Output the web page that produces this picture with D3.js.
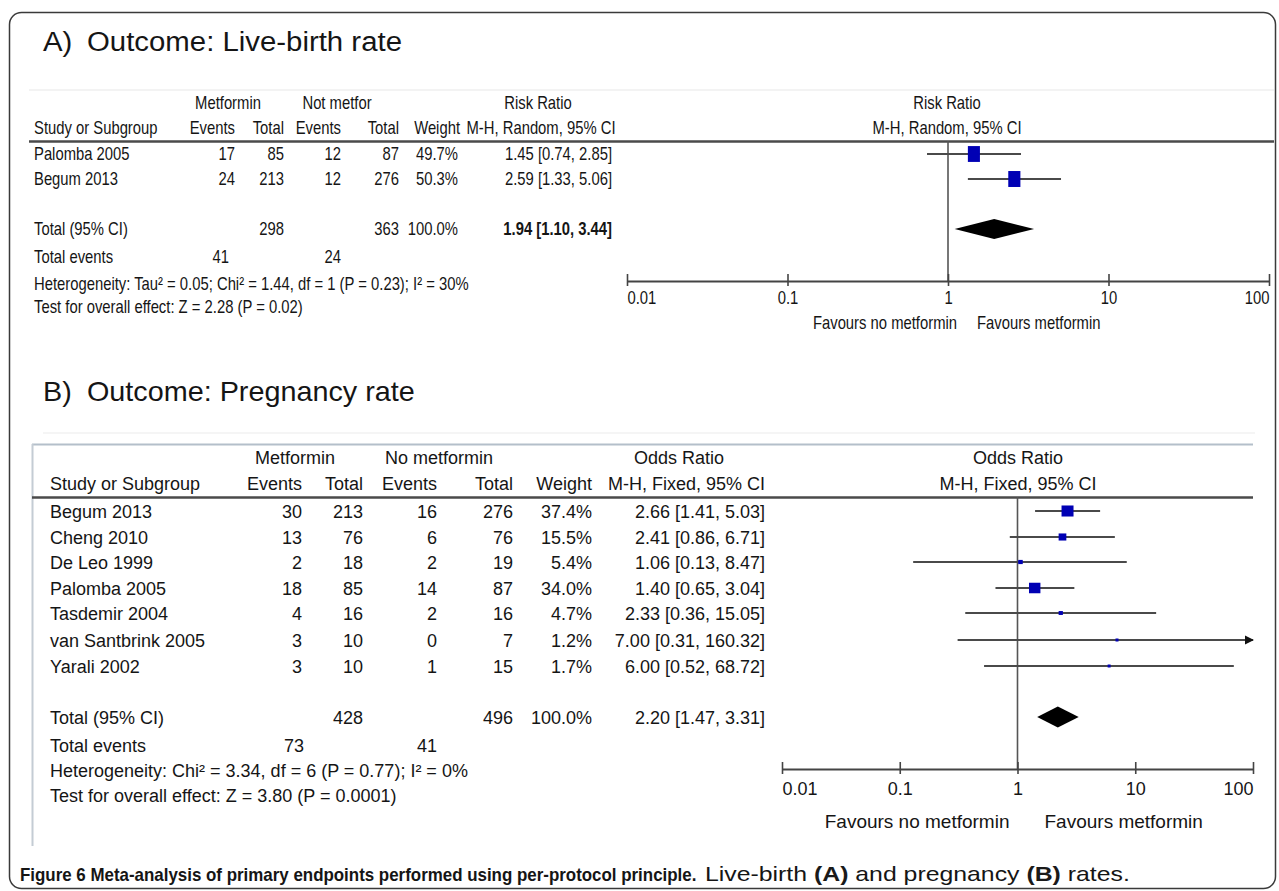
<!DOCTYPE html>
<html><head><meta charset="utf-8">
<script src="https://cdn.jsdelivr.net/npm/d3@7"></script>
<style>
html,body{margin:0;padding:0;background:#fff;}
svg{display:block;}
text{font-family:"Liberation Sans", Arial, sans-serif; fill:#151515;}
</style></head><body>
<svg id="chart" width="1279" height="891"></svg>
<script>
// ---------- Panel A data (Live-birth rate, Risk Ratio) ----------
const studiesA = ["Palomba 2005", "Begum 2013"];
const expEventsA = [17, 24];
const expTotalA = [85, 213];
const ctrlEventsA = [12, 12];
const ctrlTotalA = [87, 276];
const weightA = [49.7, 50.3];
const estA = [1.45, 2.59];
const lowA = [0.74, 1.33];
const highA = [2.85, 5.06];
const totalsA = [298, 363, 100.0];          // exp total, ctrl total, weight
const pooledA = [1.94, 1.10, 3.44];         // estimate, low, high
const totalEventsA = [41, 24];
const hetA = "Heterogeneity: Tau² = 0.05; Chi² = 1.44, df = 1 (P = 0.23); I² = 30%";
const testA = "Test for overall effect: Z = 2.28 (P = 0.02)";

// ---------- Panel B data (Pregnancy rate, Odds Ratio) ----------
const studiesB = ["Begum 2013", "Cheng 2010", "De Leo 1999", "Palomba 2005", "Tasdemir 2004", "van Santbrink 2005", "Yarali 2002"];
const expEventsB = [30, 13, 2, 18, 4, 3, 3];
const expTotalB = [213, 76, 18, 85, 16, 10, 10];
const ctrlEventsB = [16, 6, 2, 14, 2, 0, 1];
const ctrlTotalB = [276, 76, 19, 87, 16, 7, 15];
const weightB = [37.4, 15.5, 5.4, 34.0, 4.7, 1.2, 1.7];
const estB = [2.66, 2.41, 1.06, 1.40, 2.33, 7.00, 6.00];
const lowB = [1.41, 0.86, 0.13, 0.65, 0.36, 0.31, 0.52];
const highB = [5.03, 6.71, 8.47, 3.04, 15.05, 160.32, 68.72];
const totalsB = [428, 496, 100.0];
const pooledB = [2.20, 1.47, 3.31];
const totalEventsB = [73, 41];
const hetB = "Heterogeneity: Chi² = 3.34, df = 6 (P = 0.77); I² = 0%";
const testB = "Test for overall effect: Z = 3.80 (P = 0.0001)";

// ---------- axis ----------
const tickValues = [0.01, 0.1, 1, 10, 100];
const tickLabels = ["0.01", "0.1", "1", "10", "100"];
const favourLabels = ["Favours no metformin", "Favours metformin"];

const svg = d3.select("#chart");
svg.append("rect").attr("width", 1279).attr("height", 891).attr("fill", "#fff");
svg.append("rect").attr("x", 9.5).attr("y", 12.5).attr("width", 1266).attr("height", 876)
  .attr("rx", 12).attr("fill", "none").attr("stroke", "#3a3a3a").attr("stroke-width", 1.5);

function measure(str, size, weight, family) {
  const t = svg.append("text").attr("font-size", size).attr("font-weight", weight || "normal").text(str);
  if (family) t.attr("font-family", family);
  const w = t.node().getComputedTextLength();
  t.remove();
  return w;
}
function label(g, str, x, y, o) {
  o = o || {};
  const t = g.append("text").text(str)
    .attr("font-size", o.size || 17)
    .attr("text-anchor", o.anchor || "start")
    .attr("transform", `translate(${x},${y}) scale(${o.sx || 1},1)`);
  if (o.weight) t.attr("font-weight", o.weight);
  if (o.fill) t.attr("fill", o.fill);
  return t;
}
function hline(g, x1, x2, y, color, w) {
  g.append("line").attr("x1", x1).attr("x2", x2).attr("y1", y).attr("y2", y)
    .attr("stroke", color).attr("stroke-width", w);
}
const f2 = d3.format(".2f"), f1 = d3.format(".1f");
const ciText = (e, l, h) => `${f2(e)} [${f2(l)}, ${f2(h)}]`;

function title(g, tag, str, y, x2) {
  const fs = 28;
  const s = (x2 - 87) / measure(str, fs);
  label(g, tag, 43, y, { size: fs, sx: s, fill: "#111" });
  label(g, str, 87, y, { size: fs, sx: s, fill: "#111" });
}

function forest(g, cfg) {
  const x = d3.scaleLog().domain([0.01, 100]).range(cfg.range);
  const sx = cfg.sx;
  g.append("line").attr("x1", x(1)).attr("x2", x(1)).attr("y1", cfg.top).attr("y2", cfg.axisY)
    .attr("stroke", "#555").attr("stroke-width", 1.6);
  const axis = d3.axisBottom(x).tickValues(tickValues).tickFormat((d, i) => tickLabels[i])
    .tickSizeInner(5).tickSizeOuter(0).tickPadding(cfg.tickPad);
  const ag = g.append("g").attr("transform", `translate(0,${cfg.axisY})`).call(axis);
  ag.select(".domain").attr("stroke", "#444").attr("stroke-width", 2);
  ag.selectAll(".tick line").attr("y1", -7).attr("stroke", "#444").attr("stroke-width", 1.6);
  ag.selectAll(".tick text").attr("font-size", cfg.fs).attr("fill", "#222")
    .attr("font-family", '"Liberation Sans", Arial, sans-serif')
    .attr("text-anchor", (d, i) => i === 0 ? "start" : (i === tickValues.length - 1 ? "end" : "middle"))
    .attr("transform", `scale(${sx},1)`)
    .attr("x", 0);
  const size = d3.scaleSqrt().domain([0, 100]).range([0, cfg.sqMax]);
  cfg.est.forEach((e, i) => {
    const y = cfg.rowY[i];
    const hiClamped = Math.min(cfg.high[i], 100);
    g.append("line").attr("x1", x(cfg.low[i])).attr("x2", x(hiClamped)).attr("y1", y).attr("y2", y)
      .attr("stroke", "#4a4a4a").attr("stroke-width", 1.8);
    if (cfg.high[i] > 100) {
      const xe = x(100);
      g.append("path").attr("d", `M${xe - 8},${y - 4.5}L${xe + 1},${y}L${xe - 8},${y + 4.5}Z`).attr("fill", "#111");
    }
    const s = Math.max(size(cfg.weight[i]), 3);
    const w = s * cfg.sqAspect, h = Math.max(s * cfg.sqHScale, 3);
    g.append("rect").attr("x", x(e) - w / 2).attr("y", y - h / 2).attr("width", w).attr("height", h)
      .attr("fill", "#0000b4");
  });
  const [pe, pl, ph] = cfg.pooled;
  const dy = cfg.totalY, dh = cfg.diamondH / 2;
  g.append("path").attr("d", `M${x(pl)},${dy}L${x(pe)},${dy - dh}L${x(ph)},${dy}L${x(pe)},${dy + dh}Z`).attr("fill", "#000");
  label(g, favourLabels[0], x(1) + cfg.favL, cfg.favY, { anchor: "end", size: cfg.favFs, sx: sx, fill: "#222" });
  label(g, favourLabels[1], x(1) + cfg.favR, cfg.favY, { anchor: "start", size: cfg.favFs, sx: sx, fill: "#222" });
  return x;
}

// ================= Panel A =================
const gA = svg.append("g");
title(gA, "A)", "Outcome: Live-birth rate", 51, 402);
hline(gA, 29, 1274, 90, "#efefef", 1.5);
const fsA = 17.5;
const sxA = 435 / measure(hetA, fsA);
const oA = { size: fsA, sx: sxA };
const colA = { study: 34, e1: 235, t1: 284, e2: 341, t2: 399, w: 458, ci: 612 };
label(gA, "Metformin", 228, 109, { ...oA, anchor: "middle" });
label(gA, "Not metfor", 337, 109, { ...oA, anchor: "middle" });
label(gA, "Risk Ratio", 538, 109, { ...oA, anchor: "middle" });
label(gA, "Risk Ratio", 947, 109, { ...oA, anchor: "middle" });
label(gA, "Study or Subgroup", colA.study, 134, oA);
label(gA, "Events", colA.e1, 134, { ...oA, anchor: "end" });
label(gA, "Total", colA.t1, 134, { ...oA, anchor: "end" });
label(gA, "Events", colA.e2, 134, { ...oA, anchor: "end" });
label(gA, "Total", colA.t2, 134, { ...oA, anchor: "end" });
label(gA, "Weight", colA.w + 2, 134, { ...oA, anchor: "end" });
label(gA, "M-H, Random, 95% CI", 541, 134, { ...oA, anchor: "middle" });
label(gA, "M-H, Random, 95% CI", 947, 134, { ...oA, anchor: "middle" });
hline(gA, 29, 1274, 141.5, "#4a4a4a", 2.5);
const rowYA = [154, 179];
studiesA.forEach((s, i) => {
  const y = rowYA[i] + 6;
  label(gA, s, colA.study, y, oA);
  label(gA, expEventsA[i], colA.e1, y, { ...oA, anchor: "end" });
  label(gA, expTotalA[i], colA.t1, y, { ...oA, anchor: "end" });
  label(gA, ctrlEventsA[i], colA.e2, y, { ...oA, anchor: "end" });
  label(gA, ctrlTotalA[i], colA.t2, y, { ...oA, anchor: "end" });
  label(gA, f1(weightA[i]) + "%", colA.w, y, { ...oA, anchor: "end" });
  label(gA, ciText(estA[i], lowA[i], highA[i]), colA.ci, y, { ...oA, anchor: "end" });
});
const totYA = 229;
label(gA, "Total (95% CI)", colA.study, totYA + 6, oA);
label(gA, totalsA[0], colA.t1, totYA + 6, { ...oA, anchor: "end" });
label(gA, totalsA[1], colA.t2, totYA + 6, { ...oA, anchor: "end" });
label(gA, f1(totalsA[2]) + "%", colA.w, totYA + 6, { ...oA, anchor: "end" });
label(gA, ciText(...pooledA), colA.ci, totYA + 6, { ...oA, anchor: "end", weight: "bold" });
label(gA, "Total events", colA.study, 263, oA);
label(gA, totalEventsA[0], colA.e1 - 6, 263, { ...oA, anchor: "end" });
label(gA, totalEventsA[1], colA.e2, 263, { ...oA, anchor: "end" });
label(gA, hetA, colA.study, 290, oA);
label(gA, testA, colA.study, 313, oA);
forest(gA, {
  range: [627, 1269], top: 141, axisY: 281, tickPad: 6, fs: fsA, sx: sxA,
  est: estA, low: lowA, high: highA, weight: weightA, rowY: rowYA,
  sqMax: 22.5, sqAspect: 0.76, sqHScale: 1.0,
  pooled: pooledA, totalY: totYA, diamondH: 20,
  favL: 9, favR: 29, favY: 329, favFs: fsA
});

// ================= Panel B =================
const gB = svg.append("g");
title(gB, "B)", "Outcome: Pregnancy rate", 401, 415);
hline(gB, 43, 1255, 433, "#f2f2f2", 1.5);
hline(gB, 32, 1253, 444.5, "#b4bfca", 2);
gB.append("line").attr("x1", 32.5).attr("x2", 32.5).attr("y1", 444).attr("y2", 846)
  .attr("stroke", "#c4ccd4").attr("stroke-width", 2);
const fsB = 18;
const oB = { size: fsB };
const colB = { study: 50, e1: 302, t1: 363, e2: 437, t2: 513, w: 592, ci: 765 };
label(gB, "Metformin", 295, 464, { ...oB, anchor: "middle" });
label(gB, "No metformin", 439, 464, { ...oB, anchor: "middle" });
label(gB, "Odds Ratio", 679, 464, { ...oB, anchor: "middle" });
label(gB, "Odds Ratio", 1018, 464, { ...oB, anchor: "middle" });
label(gB, "Study or Subgroup", colB.study, 490, oB);
label(gB, "Events", colB.e1, 490, { ...oB, anchor: "end" });
label(gB, "Total", colB.t1, 490, { ...oB, anchor: "end" });
label(gB, "Events", colB.e2, 490, { ...oB, anchor: "end" });
label(gB, "Total", colB.t2, 490, { ...oB, anchor: "end" });
label(gB, "Weight", colB.w, 490, { ...oB, anchor: "end" });
label(gB, "M-H, Fixed, 95% CI", colB.ci, 490, { ...oB, anchor: "end" });
label(gB, "M-H, Fixed, 95% CI", 1018, 490, { ...oB, anchor: "middle" });
hline(gB, 32, 1253, 497.5, "#4a4a4a", 2.5);
const rowYB = [511, 537, 562, 588, 613, 640, 666];
studiesB.forEach((s, i) => {
  const y = rowYB[i] + 7;
  label(gB, s, colB.study, y, oB);
  label(gB, expEventsB[i], colB.e1, y, { ...oB, anchor: "end" });
  label(gB, expTotalB[i], colB.t1, y, { ...oB, anchor: "end" });
  label(gB, ctrlEventsB[i], colB.e2, y, { ...oB, anchor: "end" });
  label(gB, ctrlTotalB[i], colB.t2, y, { ...oB, anchor: "end" });
  label(gB, f1(weightB[i]) + "%", colB.w, y, { ...oB, anchor: "end" });
  label(gB, ciText(estB[i], lowB[i], highB[i]), colB.ci, y, { ...oB, anchor: "end" });
});
const totYB = 717;
label(gB, "Total (95% CI)", colB.study, totYB + 7, oB);
label(gB, totalsB[0], colB.t1, totYB + 7, { ...oB, anchor: "end" });
label(gB, totalsB[1], colB.t2, totYB + 7, { ...oB, anchor: "end" });
label(gB, f1(totalsB[2]) + "%", colB.w, totYB + 7, { ...oB, anchor: "end" });
label(gB, ciText(...pooledB), colB.ci, totYB + 7, { ...oB, anchor: "end" });
label(gB, "Total events", colB.study, 752, oB);
label(gB, totalEventsB[0], colB.e1 + 2, 752, { ...oB, anchor: "end" });
label(gB, totalEventsB[1], colB.e2, 752, { ...oB, anchor: "end" });
label(gB, hetB, colB.study, 777, oB);
label(gB, testB, colB.study, 802, oB);
forest(gB, {
  range: [782, 1253], top: 497, axisY: 769, tickPad: 8, fs: 18, sx: 1,
  est: estB, low: lowB, high: highB, weight: weightB, rowY: rowYB,
  sqMax: 19.6, sqAspect: 1, sqHScale: 0.92,
  pooled: pooledB, totalY: totYB, diamondH: 21,
  favL: -8, favR: 27, favY: 828, favFs: 19
});

// ================= Caption =================
const capFam = '"Open Sans", "Liberation Sans", sans-serif';
const capBold = "Figure 6 Meta-analysis of primary endpoints performed using per-protocol principle.";
const capFs = 18;
const sBold = 677 / measure(capBold, capFs, "bold", capFam);
svg.append("text").attr("font-size", capFs).attr("font-weight", "bold")
  .attr("font-family", capFam).attr("fill", "#1a1a1a")
  .attr("transform", `translate(20,881) scale(${sBold},1)`)
  .text(capBold);
const c2 = svg.append("text").attr("font-size", 20)
  .attr("font-family", capFam).attr("fill", "#555");
c2.append("tspan").text("Live-birth ");
c2.append("tspan").text("(A)").attr("font-weight", "bold").attr("fill", "#1a1a1a");
c2.append("tspan").text(" and pregnancy ");
c2.append("tspan").text("(B)").attr("font-weight", "bold").attr("fill", "#1a1a1a");
c2.append("tspan").text(" rates.");
const wNorm = c2.node().getComputedTextLength();
c2.attr("transform", `translate(705,881) scale(${425 / wNorm},1)`);
</script></body></html>
